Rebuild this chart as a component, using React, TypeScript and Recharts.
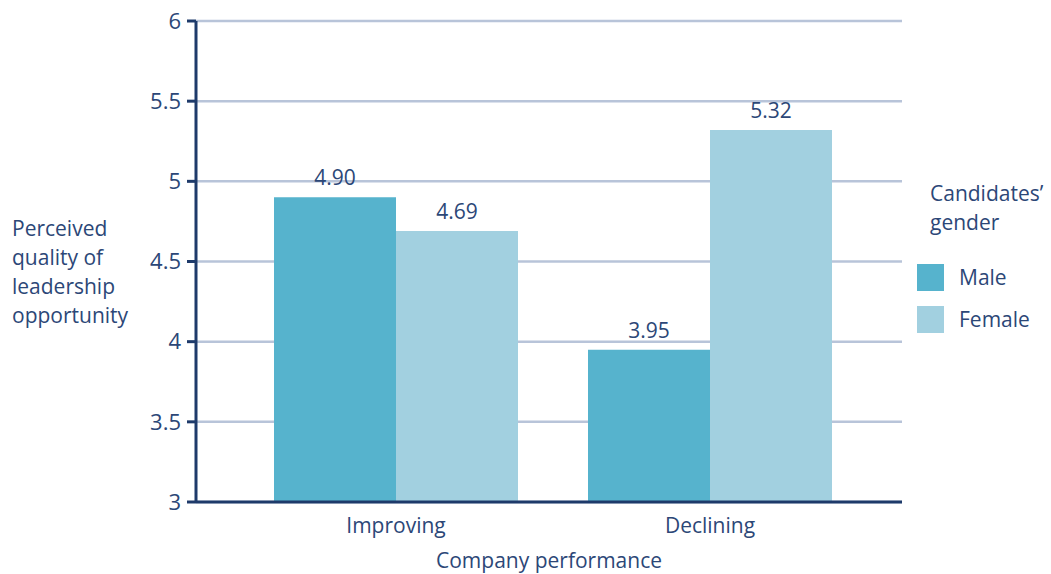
import React from "react";
import {
  BarChart,
  Bar,
  XAxis,
  YAxis,
  CartesianGrid,
  Legend,
  LabelList,
} from "recharts";

const categories = ["Improving", "Declining"];
const maleValues = [4.9, 3.95];
const femaleValues = [4.69, 5.32];
const yTicks = [3, 3.5, 4, 4.5, 5, 5.5, 6];
const yLabelLines = ["Perceived", "quality of", "leadership", "opportunity"];

const NAVY = "#1e3a6a";
const TEXT = "#2c4777";
const GRID = "#b8c4d9";
const MALE = "#56b3cd";
const FEMALE = "#a2d0e0";
const FONT = "'Open Sans', 'Noto Sans', sans-serif";

const data = categories.map((name, i) => ({
  name,
  male: maleValues[i],
  female: femaleValues[i],
}));

function YLabel() {
  return (
    <text x={12} y={236} fill={TEXT} fontSize={21} fontFamily={FONT}>
      {yLabelLines.map((l, i) => (
        <tspan key={l} x={12} y={236 + i * 29}>
          {l}
        </tspan>
      ))}
    </text>
  );
}

function XLabel(props: any) {
  const vb = props.viewBox || {};
  return (
    <text
      x={vb.x + vb.width / 2}
      y={568}
      textAnchor="middle"
      fill={TEXT}
      fontSize={21}
      fontFamily={FONT}
    >
      Company performance
    </text>
  );
}

function GenderLegend() {
  const items = [
    { label: "Male", color: MALE },
    { label: "Female", color: FEMALE },
  ];
  return (
    <div style={{ fontFamily: FONT, color: TEXT, fontSize: 21 }}>
      <div style={{ paddingLeft: 13, lineHeight: "29px", marginBottom: 19 }}>
        Candidates’
        <br />
        gender
      </div>
      {items.map((it) => (
        <div
          key={it.label}
          style={{ display: "flex", alignItems: "center", height: 42 }}
        >
          <div
            style={{ width: 27, height: 27, background: it.color, marginRight: 15 }}
          />
          <span>{it.label}</span>
        </div>
      ))}
    </div>
  );
}

export default function App() {
  return (
    <div
      style={{
        position: "absolute",
        left: 0,
        top: 0,
        width: 1051,
        height: 574,
        background: "#fff",
      }}
    >
      <BarChart
        width={1051}
        height={574}
        data={data}
        margin={{ top: 21, right: 149, left: 126, bottom: 32 }}
        barCategoryGap={35}
        barGap={0}
      >
        <CartesianGrid vertical={false} stroke={GRID} strokeWidth={2.5} />
        <XAxis
          dataKey="name"
          padding={{ left: 43, right: 35 }}
          axisLine={{ stroke: NAVY, strokeWidth: 3 }}
          tickLine={false}
          tickSize={8}
          tickMargin={8}
          height={40}
          tick={{ fill: TEXT, fontSize: 21, fontFamily: FONT }}
          label={<XLabel />}
        />
        <YAxis
          domain={[3, 6]}
          ticks={yTicks}
          interval={0}
          width={70}
          axisLine={{ stroke: NAVY, strokeWidth: 3 }}
          tickLine={{ stroke: NAVY, strokeWidth: 3 }}
          tickSize={9}
          tickMargin={6}
          tick={{ fill: TEXT, fontSize: 22, fontFamily: FONT }}
          label={<YLabel />}
        />
        <Legend
          layout="vertical"
          align="center"
          verticalAlign="middle"
          content={<GenderLegend />}
          wrapperStyle={{ left: 917, top: 179, width: 134 }}
        />
        <Bar dataKey="male" name="Male" fill={MALE} isAnimationActive={false}>
          <LabelList
            dataKey="male"
            position="top"
            offset={12}
            formatter={(v: any) => Number(v).toFixed(2)}
            style={{ fill: TEXT, fontSize: 21, fontFamily: FONT }}
          />
        </Bar>
        <Bar dataKey="female" name="Female" fill={FEMALE} isAnimationActive={false}>
          <LabelList
            dataKey="female"
            position="top"
            offset={12}
            formatter={(v: any) => Number(v).toFixed(2)}
            style={{ fill: TEXT, fontSize: 21, fontFamily: FONT }}
          />
        </Bar>
      </BarChart>
    </div>
  );
}
